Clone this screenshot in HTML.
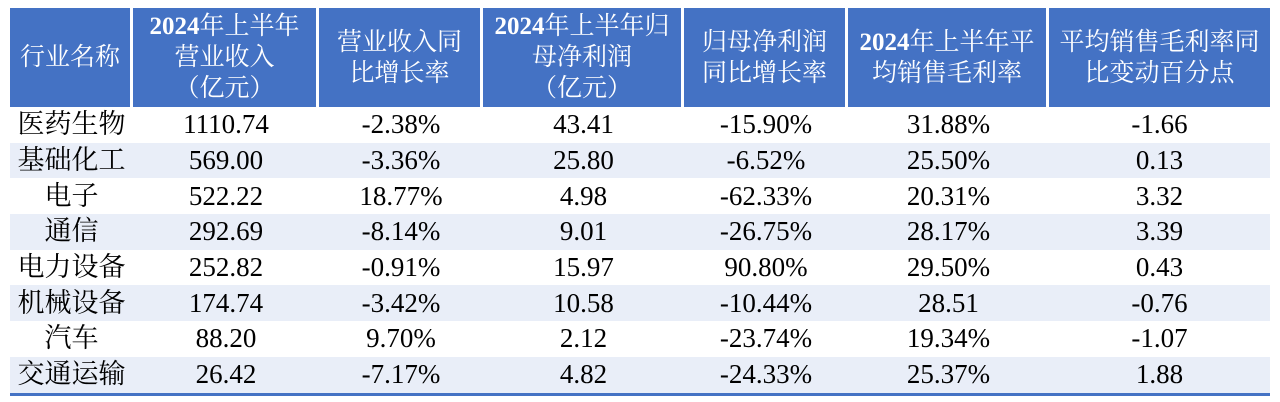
<!DOCTYPE html>
<html><head><meta charset="utf-8"><style>
body{margin:0;width:1280px;height:402px;background:#fff;overflow:hidden}
table{position:absolute;left:10px;top:8px;border-collapse:separate;border-spacing:0;font-family:"Liberation Serif","Noto Serif CJK SC",serif;table-layout:fixed}
th{background:#4472C4;color:#fff;font-weight:normal;font-size:25px;line-height:31px;height:99px;padding:0;border-right:3px solid #fff;border-bottom:0;text-align:center;vertical-align:middle;overflow:hidden;white-space:nowrap}
th b{font-weight:bold}
th:last-child{border-right:0}
td{font-size:27px;height:35.7px;padding:0;text-align:center;color:#000;line-height:35px;white-space:nowrap}
tr.s td{background:#E9EEF8}
tr:last-child td{border-bottom:3px solid #4472C4}
</style></head><body>
<table>
<colgroup><col style="width:123px"><col style="width:186px"><col style="width:164px"><col style="width:201px"><col style="width:164px"><col style="width:201px"><col style="width:221px"></colgroup>
<thead><tr>
<th>行业名称</th>
<th><b>2024</b>年上半年<br>营业收入<br>（亿元）</th>
<th>营业收入同<br>比增长率</th>
<th><b>2024</b>年上半年归<br>母净利润<br>（亿元）</th>
<th>归母净利润<br>同比增长率</th>
<th><b>2024</b>年上半年平<br>均销售毛利率</th>
<th>平均销售毛利率同<br>比变动百分点</th>
</tr></thead>
<tbody>
<tr><td>医药生物</td><td>1110.74</td><td>-2.38%</td><td>43.41</td><td>-15.90%</td><td>31.88%</td><td>-1.66</td></tr>
<tr class="s"><td>基础化工</td><td>569.00</td><td>-3.36%</td><td>25.80</td><td>-6.52%</td><td>25.50%</td><td>0.13</td></tr>
<tr><td>电子</td><td>522.22</td><td>18.77%</td><td>4.98</td><td>-62.33%</td><td>20.31%</td><td>3.32</td></tr>
<tr class="s"><td>通信</td><td>292.69</td><td>-8.14%</td><td>9.01</td><td>-26.75%</td><td>28.17%</td><td>3.39</td></tr>
<tr><td>电力设备</td><td>252.82</td><td>-0.91%</td><td>15.97</td><td>90.80%</td><td>29.50%</td><td>0.43</td></tr>
<tr class="s"><td>机械设备</td><td>174.74</td><td>-3.42%</td><td>10.58</td><td>-10.44%</td><td>28.51</td><td>-0.76</td></tr>
<tr><td>汽车</td><td>88.20</td><td>9.70%</td><td>2.12</td><td>-23.74%</td><td>19.34%</td><td>-1.07</td></tr>
<tr class="s"><td>交通运输</td><td>26.42</td><td>-7.17%</td><td>4.82</td><td>-24.33%</td><td>25.37%</td><td>1.88</td></tr>
</tbody></table>
</body></html>
